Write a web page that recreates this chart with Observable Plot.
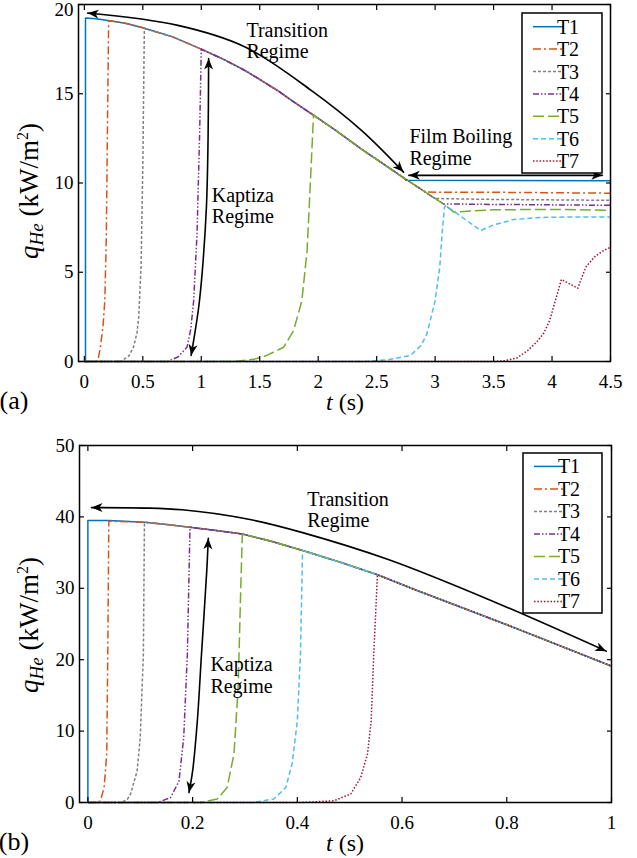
<!DOCTYPE html>
<html>
<head>
<meta charset="utf-8">
<script src="https://cdn.jsdelivr.net/npm/d3@7"></script>
<script src="https://cdn.jsdelivr.net/npm/@observablehq/plot@0.6"></script>
<style>
  body { margin: 0; background: #fff; font-family: 'Liberation Serif', serif; }
  #chart svg { display: block; }
</style>
</head>
<body>
<div id="chart"></div>
<script>
// ---------- series styling ----------
const seriesNames = ["T1", "T2", "T3", "T4", "T5", "T6", "T7"];
const seriesColors = ["#0072BD", "#D95319", "#808080", "#7E2F8E", "#77AC30", "#4DBEEE", "#A2142F"];
const seriesDash = [null, "8,3,2,3", "3,2", "6,2,1.5,2,1.5,2", "11,4", "5,3", "1.5,1.8"];

// ---------- panel (a) data ----------
const aXTicks = [0, 0.5, 1, 1.5, 2, 2.5, 3, 3.5, 4, 4.5];
const aYTicks = [0, 5, 10, 15, 20];
// common transition-regime curve shared by all series (t, q)
const aCommon = [[0.1, 19.2], [0.2, 19.1], [0.35, 18.95], [0.5, 18.7], [0.75, 18.2], [1.0, 17.5], [1.2, 16.9], [1.375, 16.3], [1.5, 15.8], [1.66, 15.15], [1.8, 14.5], [1.96, 13.8], [2.15, 12.95], [2.37, 11.9], [2.55, 11.1], [2.74, 10.25], [3.09, 8.74]];
// Kapitza rise of each series
const aRise = [
  [[0, 0], [0.01, 0], [0.01, 19.25], [0.1, 19.2]],
  [[0, 0], [0.1, 0], [0.12, 0.2], [0.137, 0.8], [0.16, 2.0], [0.175, 3.4], [0.188, 7], [0.2, 14.6], [0.208, 19.1]],
  [[0, 0], [0.31, 0], [0.38, 0.3], [0.42, 0.8], [0.45, 1.6], [0.465, 2.5], [0.485, 5.3], [0.5, 10.9], [0.513, 18.65]],
  [[0, 0], [0.71, 0], [0.8, 0.25], [0.878, 0.8], [0.91, 1.8], [0.935, 3.4], [0.964, 7.2], [0.986, 12.8], [1.0, 17.5]],
  [[0, 0], [1.28, 0], [1.45, 0.12], [1.56, 0.34], [1.705, 0.8], [1.79, 1.74], [1.86, 3.4], [1.905, 6.2], [1.933, 10], [1.96, 13.8]],
  [[0, 0], [2.4, 0], [2.6, 0.1], [2.79, 0.34], [2.88, 0.9], [2.93, 1.55], [3.0, 3.4], [3.04, 5.3], [3.06, 7.2], [3.08, 8.65]],
  [[0, 0], [3.5, 0], [3.6, 0.05], [3.7, 0.2], [3.79, 0.6], [3.87, 1.1], [3.93, 1.6], [3.98, 2.3], [4.01, 3.0], [4.05, 3.9], [4.08, 4.6], [4.15, 4.35], [4.22, 4.1], [4.26, 4.8], [4.29, 5.3], [4.37, 5.9], [4.45, 6.25], [4.5, 6.4]]
];
// film-boiling tails
const aTail = [
  [[2.75, 10.15], [4.5, 10.12]],
  [[2.92, 9.49], [3.5, 9.48], [4.5, 9.43]],
  [[3.0, 9.13], [3.5, 9.08], [4.5, 9.03]],
  [[3.07, 8.83], [3.5, 8.8], [4.5, 8.75]],
  [[3.16, 8.37], [3.5, 8.5], [4.0, 8.52], [4.5, 8.47]],
  [[3.39, 7.34], [3.5, 7.65], [3.67, 7.95], [3.9, 8.07], [4.2, 8.1], [4.5, 8.1]],
  []
];
const aArrowTransition = [[0.028, 19.52], [0.8, 18.83], [1.375, 17.62], [1.94, 15.19], [2.37, 12.95], [2.73, 10.61]];
const aArrowFilm = [[2.775, 10.43], [4.43, 10.43]];
const aArrowKapitza = [[1.063, 16.97], [1.058, 12.39], [1.044, 8.65], [1.007, 4.92], [0.978, 3.04], [0.935, 1.18], [0.913, 0.34]];
const aLabelT = [1.386, 2.78, 1.09];
const aLabelQ = [17.98, 12.02, 8.73];
const aLabelText = ["Transition\nRegime", "Film Boiling\nRegime", "Kaptiza\nRegime"];

// ---------- panel (b) data ----------
const bXTicks = [0, 0.2, 0.4, 0.6, 0.8, 1];
const bYTicks = [0, 10, 20, 30, 40, 50];
const bCommon = [[0.04, 39.5], [0.108, 39.26], [0.15, 38.95], [0.195, 38.55], [0.245, 38.1], [0.295, 37.6], [0.35, 36.6], [0.41, 35.3], [0.48, 33.7], [0.553, 31.9], [0.625, 29.8], [0.7, 27.7], [0.8, 24.9], [0.9, 22.0], [1.0, 19.1]];
const bRise = [
  [[0, 0], [0, 39.5], [0.04, 39.5]],
  [[0, 0], [0.018, 0], [0.024, 0.24], [0.031, 2.1], [0.036, 6.8], [0.038, 20.8], [0.04, 39.4]],
  [[0, 0], [0.0625, 0], [0.075, 0.4], [0.0816, 1.2], [0.094, 4.4], [0.1, 9.1], [0.106, 20.8], [0.108, 39.26]],
  [[0, 0], [0.133, 0], [0.158, 0.7], [0.174, 3.0], [0.183, 9.1], [0.19, 20.8], [0.195, 38.55]],
  [[0, 0], [0.215, 0], [0.247, 0.5], [0.266, 2.1], [0.279, 6.8], [0.287, 16.1], [0.292, 30.1], [0.295, 37.6]],
  [[0, 0], [0.317, 0], [0.355, 0.5], [0.378, 2.1], [0.39, 5.4], [0.4, 11.4], [0.406, 20.8], [0.41, 35.3]],
  [[0, 0], [0.406, 0], [0.47, 0.24], [0.502, 1.2], [0.521, 3.5], [0.534, 6.8], [0.541, 11.4], [0.546, 20.8], [0.553, 31.9]]
];
const bTail = [[], [], [], [], [], [], []];
const bArrowTransition = [[0.007, 41.3], [0.18, 41.0], [0.312, 39.6], [0.41, 37.8], [0.575, 34.0], [0.773, 28.2], [0.99, 21.2]];
const bArrowKapitza = [[0.23, 37.0], [0.227, 32.4], [0.217, 20.8], [0.209, 11.4], [0.2, 4.4], [0.193, 1.4]];
const bLabelT = [0.419, 0.234];
const bLabelQ = [41.0, 17.85];
const bLabelText = ["Transition\nRegime", "Kaptiza\nRegime"];

// ---------- helpers ----------
function buildSeries(rise, common, tail) {
  const end = rise[rise.length - 1][0];
  const start = tail.length ? tail[0][0] : Infinity;
  return [...rise, ...common.filter(([t]) => t > end && t < start), ...tail];
}

const FONT = "'Liberation Serif', serif";

function panel({width, height, margins, xDomain, yDomain, xTicks, yTicks, topLabelDy, common, rise, tail, arrows, labelT, labelQ, labelText}) {
  const marks = [];
  seriesNames.forEach((name, i) => {
    const pts = buildSeries(rise[i], common, tail[i]);
    marks.push(Plot.line(pts, {
      x: d => d[0], y: d => d[1],
      stroke: seriesColors[i], strokeWidth: 1.5,
      strokeDasharray: seriesDash[i] || undefined,
      strokeLinecap: "butt"
    }));
  });
  arrows.forEach(a => {
    marks.push(Plot.line(a, {
      x: d => d[0], y: d => d[1], stroke: "black", strokeWidth: 1.6,
      curve: a.length > 2 ? "catmull-rom" : "linear",
      ariaDescription: "dblarrow"
    }));
  });
  marks.push(Plot.text(labelText, {
    x: (d, i) => labelT[i], y: (d, i) => labelQ[i], text: d => d,
    textAnchor: "start", lineAnchor: "middle", lineHeight: 1.08,
    fontSize: 20, fill: "black"
  }));
  marks.push(Plot.axisX(xTicks, {anchor: "bottom", tickSize: -5, tickPadding: 18, tickFormat: d => String(d), label: null, fontSize: 19, strokeWidth: 1.2}));
  marks.push(Plot.axisX(xTicks, {anchor: "top", tickSize: -5, tickFormat: () => "", label: null, strokeWidth: 1.2}));
  // left ticks (marks only), then labels; the top label is nudged down as in the reference
  marks.push(Plot.axisY(yTicks, {anchor: "left", tickSize: -5, tickFormat: () => "", label: null, strokeWidth: 1.2}));
  marks.push(Plot.axisY(yTicks.slice(0, -1), {anchor: "left", tickSize: 0, tickPadding: 5, tickFormat: d => String(d), label: null, fontSize: 19}));
  marks.push(Plot.axisY(yTicks.slice(-1), {anchor: "left", tickSize: 0, tickPadding: 5, tickFormat: d => String(d), label: null, fontSize: 19, dy: topLabelDy}));
  marks.push(Plot.axisY(yTicks, {anchor: "right", tickSize: -5, tickFormat: () => "", label: null, strokeWidth: 1.2}));
  marks.push(Plot.frame({stroke: "black", strokeWidth: 1.5}));
  return Plot.plot({
    width, height,
    marginLeft: margins[0], marginRight: margins[1], marginTop: margins[2], marginBottom: margins[3],
    style: {fontFamily: FONT, fontSize: "20px", color: "black", background: "white", overflow: "visible"},
    x: {domain: xDomain},
    y: {domain: yDomain},
    marks
  });
}

function decorate(plot, {legendBox, rowStart, rowStep, yLabelY, xLabelY, panelLabel}) {
  const svg = d3.select(plot);
  const defs = svg.append("defs");
  const id = "ah" + Math.random().toString(36).slice(2, 8);
  defs.append("marker")
    .attr("id", id)
    .attr("viewBox", "-12 -6 13 12")
    .attr("markerWidth", 13).attr("markerHeight", 12)
    .attr("markerUnits", "userSpaceOnUse")
    .attr("refX", 0).attr("refY", 0)
    .attr("orient", "auto-start-reverse")
    .append("path").attr("d", "M0,0L-11,-4.5L-8,0L-11,4.5Z").attr("fill", "black");
  svg.selectAll('g[aria-description="dblarrow"] path')
    .attr("marker-start", `url(#${id})`).attr("marker-end", `url(#${id})`);

  // legend
  const [lx, ly, lw, lh] = legendBox;
  const g = svg.append("g");
  g.append("rect").attr("x", lx).attr("y", ly).attr("width", lw).attr("height", lh)
    .attr("fill", "white").attr("stroke", "black").attr("stroke-width", 1.5);
  seriesNames.forEach((name, i) => {
    const y = ly + rowStart + i * rowStep;
    g.append("line").attr("x1", lx + 11).attr("x2", lx + 41).attr("y1", y).attr("y2", y)
      .attr("stroke", seriesColors[i]).attr("stroke-width", 1.5)
      .attr("stroke-dasharray", seriesDash[i]);
    g.append("text").attr("x", lx + 46).attr("y", y).attr("dy", "0.35em")
      .style("font-family", FONT).attr("font-size", 20).attr("fill", "black").text(name);
  });

  // y label
  const yl = svg.append("text")
    .attr("transform", `translate(38,${yLabelY}) rotate(-90)`)
    .attr("text-anchor", "middle").style("font-family", FONT).attr("font-size", 27).attr("fill", "black");
  yl.append("tspan").attr("font-style", "italic").text("q");
  yl.append("tspan").attr("font-style", "italic").attr("font-size", 19).attr("dy", 5).text("He");
  yl.append("tspan").attr("dy", -5).text(" (kW/m");
  yl.append("tspan").attr("font-size", 16).attr("dy", -10).text("2");
  yl.append("tspan").attr("dy", 10).text(")");

  // x label
  const xl = svg.append("text")
    .attr("x", 345).attr("y", xLabelY).attr("dy", "0.35em")
    .attr("text-anchor", "middle").style("font-family", FONT).attr("font-size", 24).attr("fill", "black");
  xl.append("tspan").attr("font-style", "italic").text("t");
  xl.append("tspan").text(" (s)");

  svg.append("text").attr("x", 14).attr("y", xLabelY - 2).attr("dy", "0.35em")
    .style("font-family", FONT).attr("font-size", 26).attr("fill", "black").text(panelLabel);
}

const chart = document.getElementById("chart");

const plotA = panel({
  width: 637, height: 420, margins: [78, 27, 4, 59],
  xDomain: [-0.05, 4.5], yDomain: [0, 20], xTicks: aXTicks, yTicks: aYTicks, topLabelDy: 5,
  common: aCommon, rise: aRise, tail: aTail,
  arrows: [aArrowTransition, aArrowFilm, aArrowKapitza],
  labelT: aLabelT, labelQ: aLabelQ, labelText: aLabelText
});
decorate(plotA, {legendBox: [522, 13, 80, 160], rowStart: 13.7, rowStep: 22.4, yLabelY: 191, xLabelY: 402, panelLabel: "(a)"});
chart.appendChild(plotA);

const plotB = panel({
  width: 637, height: 438, margins: [79, 26, 25, 56],
  xDomain: [-0.016, 1], yDomain: [0, 50], xTicks: bXTicks, yTicks: bYTicks, topLabelDy: 0,
  common: bCommon, rise: bRise, tail: bTail,
  arrows: [bArrowTransition, bArrowKapitza],
  labelT: bLabelT, labelQ: bLabelQ, labelText: bLabelText
});
decorate(plotB, {legendBox: [523, 33, 79, 160], rowStart: 13.4, rowStep: 22.5, yLabelY: 205, xLabelY: 423, panelLabel: "(b)"});
chart.appendChild(plotB);
</script>
</body>
</html>
